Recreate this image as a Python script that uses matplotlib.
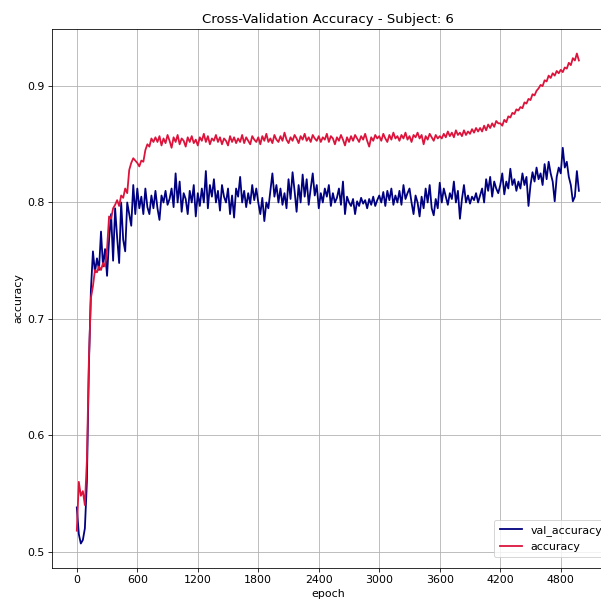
import matplotlib
matplotlib.use("Agg")
import numpy as np
import matplotlib.pyplot as plt
from matplotlib.ticker import MultipleLocator

# one value every 20 epochs
epoch_step = 20

val_accuracy = [
    0.538, 0.515, 0.507, 0.510, 0.520, 0.560, 0.660, 0.725, 0.758, 0.740,
    0.752, 0.742, 0.775, 0.745, 0.760, 0.737, 0.768, 0.790, 0.750, 0.795,
    0.770, 0.748, 0.800, 0.768, 0.758, 0.800, 0.790, 0.780, 0.815, 0.790,
    0.812, 0.795, 0.805, 0.790, 0.812, 0.796, 0.790, 0.806, 0.795, 0.810,
    0.795, 0.785, 0.806, 0.800, 0.810, 0.798, 0.803, 0.812, 0.796, 0.825,
    0.800, 0.818, 0.792, 0.808, 0.803, 0.790, 0.810, 0.800, 0.815, 0.788,
    0.808, 0.797, 0.812, 0.800, 0.827, 0.795, 0.815, 0.805, 0.820, 0.800,
    0.810, 0.793, 0.815, 0.805, 0.800, 0.812, 0.790, 0.806, 0.787, 0.812,
    0.805, 0.822, 0.800, 0.810, 0.796, 0.808, 0.799, 0.815, 0.802, 0.812,
    0.800, 0.790, 0.804, 0.784, 0.800, 0.795, 0.810, 0.825, 0.805, 0.815,
    0.800, 0.812, 0.798, 0.808, 0.795, 0.820, 0.803, 0.826, 0.810, 0.792,
    0.815, 0.800, 0.824, 0.805, 0.820, 0.798, 0.812, 0.825, 0.806, 0.815,
    0.795, 0.808, 0.800, 0.812, 0.805, 0.815, 0.797, 0.808, 0.800, 0.804,
    0.812, 0.798, 0.818, 0.790, 0.805, 0.800, 0.797, 0.803, 0.790, 0.801,
    0.797, 0.804, 0.799, 0.802, 0.795, 0.803, 0.798, 0.805, 0.797, 0.802,
    0.806, 0.800, 0.809, 0.797, 0.810, 0.802, 0.812, 0.798, 0.806, 0.800,
    0.810, 0.798, 0.815, 0.803, 0.808, 0.812, 0.800, 0.790, 0.806, 0.800,
    0.788, 0.805, 0.795, 0.812, 0.800, 0.815, 0.795, 0.789, 0.803, 0.795,
    0.817, 0.800, 0.812, 0.805, 0.798, 0.808, 0.803, 0.818, 0.800, 0.810,
    0.786, 0.803, 0.815, 0.800, 0.806, 0.799, 0.805, 0.802, 0.808, 0.800,
    0.806, 0.812, 0.800, 0.820, 0.810, 0.822, 0.805, 0.818, 0.812, 0.808,
    0.815, 0.825, 0.807, 0.818, 0.812, 0.829, 0.815, 0.820, 0.810, 0.818,
    0.812, 0.825, 0.815, 0.822, 0.797, 0.815, 0.826, 0.818, 0.830, 0.820,
    0.825, 0.815, 0.833, 0.820, 0.835, 0.825, 0.818, 0.801, 0.822, 0.830,
    0.825, 0.847, 0.830, 0.835, 0.822, 0.815, 0.801, 0.805, 0.827, 0.810,
]

accuracy = [
    0.518, 0.560, 0.548, 0.552, 0.540, 0.578, 0.665, 0.718, 0.728, 0.742,
    0.740, 0.745, 0.742, 0.748, 0.745, 0.760, 0.788, 0.786, 0.795, 0.798,
    0.802, 0.797, 0.806, 0.804, 0.812, 0.808, 0.828, 0.834, 0.838, 0.836,
    0.834, 0.831, 0.836, 0.835, 0.845, 0.850, 0.848, 0.855, 0.852, 0.856,
    0.852, 0.857, 0.849, 0.855, 0.851, 0.858, 0.853, 0.847, 0.856, 0.852,
    0.858, 0.850, 0.855, 0.853, 0.848, 0.856, 0.852, 0.857, 0.851, 0.854,
    0.849, 0.856, 0.853, 0.859, 0.852, 0.857, 0.850, 0.855, 0.853, 0.858,
    0.852, 0.856, 0.850, 0.855, 0.853, 0.849, 0.857, 0.852, 0.856, 0.851,
    0.855, 0.852, 0.858, 0.851, 0.856, 0.853, 0.850, 0.857, 0.854, 0.852,
    0.856, 0.850, 0.857, 0.853, 0.859, 0.852, 0.855, 0.851, 0.858, 0.854,
    0.852, 0.857, 0.853, 0.860, 0.854, 0.851, 0.856, 0.853, 0.858, 0.855,
    0.851, 0.857, 0.854, 0.859, 0.853, 0.856, 0.852, 0.858, 0.855, 0.853,
    0.857, 0.852, 0.856, 0.854, 0.859, 0.852, 0.857, 0.855, 0.850, 0.856,
    0.853, 0.858, 0.854, 0.849, 0.856, 0.852, 0.857, 0.853, 0.858, 0.855,
    0.852, 0.857, 0.854, 0.859, 0.853, 0.848, 0.856, 0.853, 0.858, 0.855,
    0.857, 0.853, 0.859, 0.855, 0.852, 0.858, 0.854, 0.860, 0.855, 0.857,
    0.853, 0.858, 0.855, 0.860, 0.854, 0.857, 0.852, 0.858, 0.856, 0.860,
    0.855, 0.858, 0.850, 0.857, 0.854, 0.859, 0.856, 0.853, 0.858, 0.855,
    0.857, 0.855, 0.859, 0.856, 0.861, 0.857, 0.860, 0.856, 0.862, 0.858,
    0.860, 0.857, 0.862, 0.858, 0.861, 0.859, 0.863, 0.860, 0.864, 0.861,
    0.864, 0.861, 0.866, 0.862, 0.867, 0.864, 0.868, 0.865, 0.870, 0.868,
    0.868, 0.866, 0.871, 0.869, 0.874, 0.873, 0.877, 0.876, 0.880, 0.879,
    0.882, 0.881, 0.886, 0.885, 0.889, 0.888, 0.893, 0.892, 0.896, 0.898,
    0.901, 0.900, 0.905, 0.904, 0.909, 0.907, 0.911, 0.909, 0.913, 0.911,
    0.914, 0.912, 0.916, 0.915, 0.920, 0.918, 0.924, 0.922, 0.928, 0.922,
]

epochs = np.arange(len(accuracy)) * epoch_step

# reference looks like a 10pt figure scaled up ~1.1x
plt.rcParams.update({
    "font.size": 11,
    "axes.titlesize": 13.2,
    "xtick.major.size": 3.8,
    "ytick.major.size": 3.8,
})

fig = plt.figure(figsize=(601 / 72, 608 / 72), dpi=72)
# the reference is cropped on the right, so the axes run past the figure edge
ax = fig.add_axes([51.7 / 601, 40 / 608, 552.3 / 601, 539 / 608])

ax.plot(epochs, val_accuracy, color="navy", linewidth=1.8, label="val_accuracy")
ax.plot(epochs, accuracy, color="crimson", linewidth=1.8, label="accuracy")

ax.xaxis.set_major_locator(MultipleLocator(600))
ax.grid(True)
ax.set_title("Cross-Validation Accuracy - Subject: 6")
ax.set_xlabel("epoch")
ax.set_ylabel("accuracy")
# legend frame runs off the right edge in the reference too
ax.legend(loc="lower left", bbox_to_anchor=(494 / 601, 51 / 608),
          bbox_transform=fig.transFigure, borderaxespad=0, fontsize=11,
          borderpad=0.5)

fig.savefig("out.png", dpi=72)
plt.close(fig)
